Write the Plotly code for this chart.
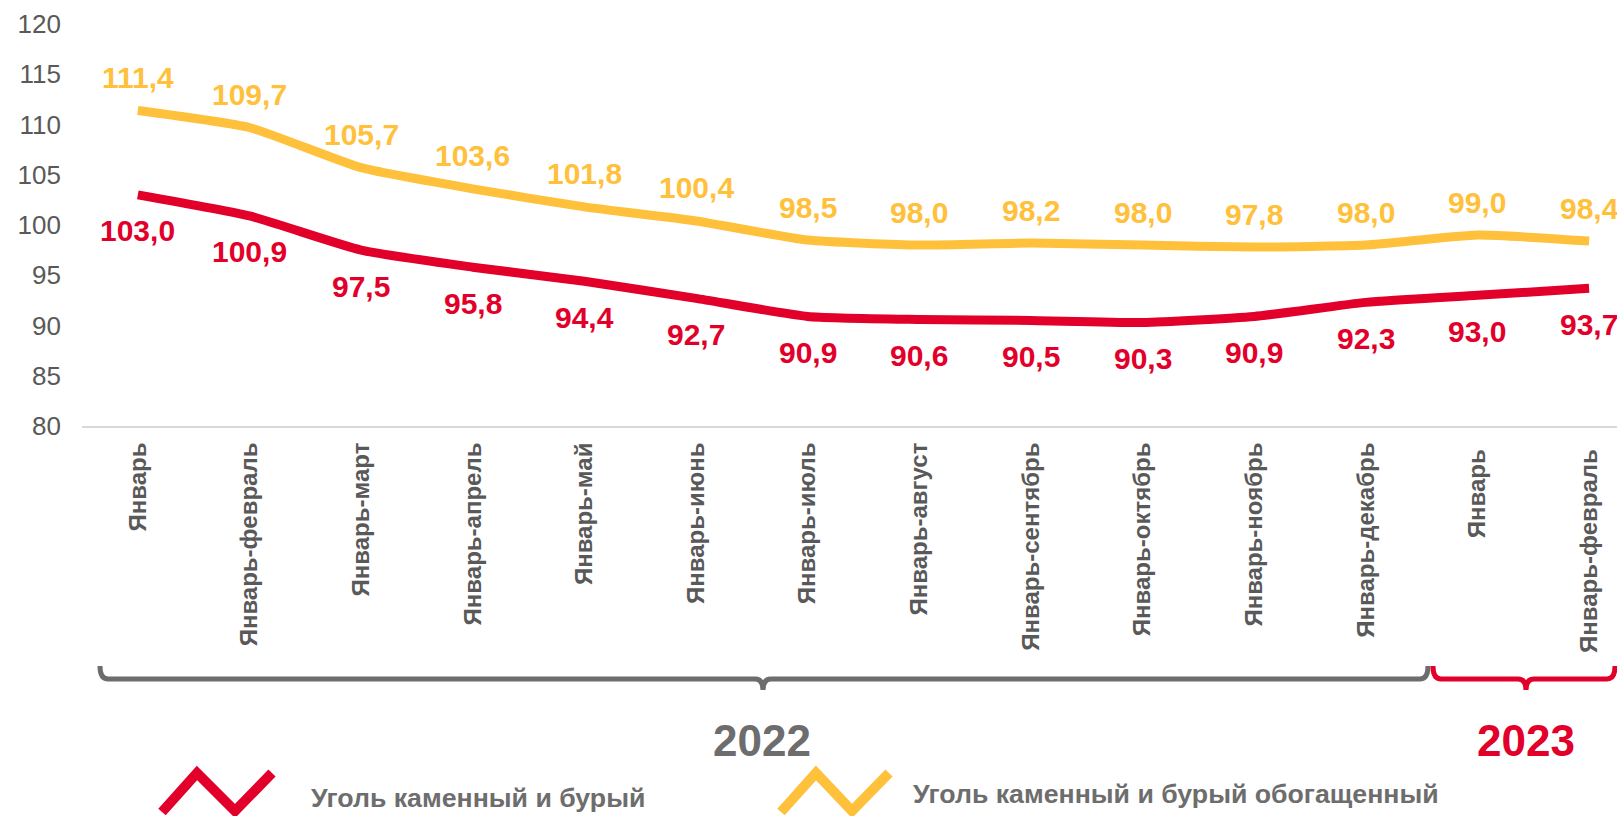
import plotly.graph_objects as go

categories = ["Январь", "Январь-февраль", "Январь-март", "Январь-апрель", "Январь-май",
              "Январь-июнь", "Январь-июль", "Январь-август", "Январь-сентябрь",
              "Январь-октябрь", "Январь-ноябрь", "Январь-декабрь", "Январь ", "Январь-февраль "]
coal = [103.0, 100.9, 97.5, 95.8, 94.4, 92.7, 90.9, 90.6, 90.5, 90.3, 90.9, 92.3, 93.0, 93.7]
coal_enriched = [111.4, 109.7, 105.7, 103.6, 101.8, 100.4, 98.5, 98.0, 98.2, 98.0, 97.8, 98.0, 99.0, 98.4]
series_names = ["Уголь каменный и бурый", "Уголь каменный и бурый обогащенный"]
year_labels = ["2022", "2023"]
y_ticks = [80, 85, 90, 95, 100, 105, 110, 115, 120]

RED = "#E2002A"
YELLOW = "#FFC13B"
GRAY = "#595959"
DGRAY = "#6D6D6D"
FONT = "Liberation Sans, Arial"

W, H = 1617, 816
ML, MR, MT, MB = 82, 0, 24, 390
PW, PH = W - ML - MR, H - MT - MB


def px(x):
    return (x - ML) / PW


def py(y):
    return (H - MB - y) / PH


def path(points_cmds):
    out = []
    for item in points_cmds:
        if isinstance(item, str):
            out.append(item)
        else:
            out.append(f"{px(item[0]):.5f},{py(item[1]):.5f}")
    return " ".join(out)


def fmt(v):
    return "<b>" + f"{v:.1f}".replace(".", ",") + "</b>"


fig = go.Figure()
fig.add_trace(go.Scatter(x=categories, y=coal_enriched, mode="lines", name=series_names[1],
                         line=dict(color=YELLOW, width=9, shape="spline", smoothing=0.5)))
fig.add_trace(go.Scatter(x=categories, y=coal, mode="lines", name=series_names[0],
                         line=dict(color=RED, width=9, shape="spline", smoothing=0.5)))

annotations = []
for c, v in zip(categories, coal_enriched):
    annotations.append(dict(x=c, y=v, xref="x", yref="y", text=fmt(v), showarrow=False,
                            yshift=33, font=dict(family=FONT, size=30, color=YELLOW)))
for c, v in zip(categories, coal):
    annotations.append(dict(x=c, y=v, xref="x", yref="y", text=fmt(v), showarrow=False,
                            yshift=-36, font=dict(family=FONT, size=30, color=RED)))

# year labels
annotations.append(dict(x=px(762), y=py(740), xref="paper", yref="paper", text="<b>" + year_labels[0] + "</b>",
                        showarrow=False, xanchor="center", yanchor="middle",
                        font=dict(family=FONT, size=44, color=DGRAY)))
annotations.append(dict(x=px(1526), y=py(740), xref="paper", yref="paper", text="<b>" + year_labels[1] + "</b>",
                        showarrow=False, xanchor="center", yanchor="middle",
                        font=dict(family=FONT, size=44, color=RED)))
# legend texts
annotations.append(dict(x=px(309), y=py(798), xref="paper", yref="paper", text="<b>" + series_names[0] + "</b>",
                        showarrow=False, xanchor="left", yanchor="middle",
                        font=dict(family=FONT, size=26.7, color=DGRAY)))
annotations.append(dict(x=px(911), y=py(794), xref="paper", yref="paper", text="<b>" + series_names[1] + "</b>",
                        showarrow=False, xanchor="left", yanchor="middle",
                        font=dict(family=FONT, size=26.7, color=DGRAY)))

shapes = []
# gray bracket 2022
shapes.append(dict(type="path", xref="paper", yref="paper",
                   path=path(["M", (100, 666), "Q", (100, 679), (108, 679), "L", (755, 679),
                              "Q", (763, 679), (763, 690), "Q", (763, 679), (771, 679),
                              "L", (1420, 679), "Q", (1428, 679), (1428, 666)]),
                   line=dict(color=DGRAY, width=5)))
# red bracket 2023
shapes.append(dict(type="path", xref="paper", yref="paper",
                   path=path(["M", (1433, 666), "Q", (1433, 679), (1441, 679), "L", (1518, 679),
                              "Q", (1526, 679), (1526, 690), "Q", (1526, 679), (1534, 679),
                              "L", (1607, 679), "Q", (1615, 679), (1615, 666)]),
                   line=dict(color=RED, width=5)))
# legend zigzag icons
shapes.append(dict(type="path", xref="paper", yref="paper",
                   path=path(["M", (162, 812), "L", (197, 773), "L", (235, 811), "L", (272, 773)]),
                   line=dict(color=RED, width=10)))
shapes.append(dict(type="path", xref="paper", yref="paper",
                   path=path(["M", (781, 812), "L", (816, 773), "L", (852, 811), "L", (889, 773)]),
                   line=dict(color=YELLOW, width=10)))

fig.update_layout(
    width=W, height=H,
    margin=dict(l=ML, r=MR, t=MT, b=MB, autoexpand=False),
    paper_bgcolor="white", plot_bgcolor="white",
    showlegend=False,
    annotations=annotations,
    shapes=shapes,
    font=dict(family=FONT),
)
fig.update_xaxes(
    type="category", range=[-0.5, 13.25], showgrid=False, zeroline=False,
    showline=True, linecolor="#D9D9D9", linewidth=2, ticks="",
    tickangle=-90, ticklabelstandoff=5,
    tickfont=dict(family=FONT, size=24, color=GRAY, weight="bold"),
)
fig.update_yaxes(
    range=[80, 120], tickvals=y_ticks, showgrid=False, zeroline=False, showline=False,
    ticks="", ticklabelstandoff=20,
    tickfont=dict(family=FONT, size=26, color=GRAY),
)

post = ("document.body.style.margin='0';document.body.style.overflow='hidden';"
        "document.documentElement.style.overflow='hidden';")
fig.write_html("out.html", post_script=post, config={"displayModeBar": False})
